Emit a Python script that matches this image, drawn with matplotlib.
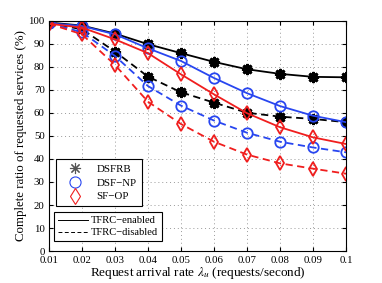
import numpy as np
import matplotlib
matplotlib.use('Agg')
import matplotlib.pyplot as plt
from matplotlib.lines import Line2D

plt.rcParams['font.family'] = ['Liberation Serif', 'DejaVu Serif']
plt.rcParams['mathtext.fontset'] = 'stix'

rates = [0.01, 0.02, 0.03, 0.04, 0.05, 0.06, 0.07, 0.08, 0.09, 0.1]

# TFRC-enabled
dsfrb_on = [99.3, 98.0, 94.5, 89.9, 86.0, 82.2, 79.0, 77.0, 75.7, 75.5]
dsfnp_on = [99.0, 97.8, 94.2, 88.1, 82.6, 75.2, 68.6, 63.0, 58.8, 56.0]
sfop_on = [98.8, 97.1, 92.0, 86.0, 76.8, 68.1, 59.9, 53.8, 49.4, 46.5]
# TFRC-disabled
dsfrb_off = [99.0, 96.4, 86.7, 75.8, 69.0, 64.5, 60.1, 58.4, 57.4, 56.0]
dsfnp_off = [99.0, 95.1, 84.8, 71.7, 63.2, 56.7, 51.4, 47.5, 45.0, 42.9]
sfop_off = [98.8, 94.2, 80.9, 64.9, 55.2, 47.5, 41.9, 38.1, 35.8, 33.6]

schemes = ['DSFRB', 'DSF\u2212NP', 'SF\u2212OP']
colors = ['black', '#2846f0', '#f01e1e']
markers = [(8, 2, 0), 'o', 'd']

fig = plt.figure(figsize=(3.82, 2.83), dpi=100)
ax = fig.add_axes([0.128, 0.113, 0.778, 0.813])

series_on = [dsfrb_on, dsfnp_on, sfop_on]
series_off = [dsfrb_off, dsfnp_off, sfop_off]
for i in range(3):
    ms = 8 if i == 0 else 7.5
    mew = 2.0 if i == 0 else 1.3
    ax.plot(rates, series_on[i], '-', color=colors[i], marker=markers[i],
            markersize=ms, mfc='none', mec=colors[i], mew=mew, lw=1.3)
    ax.plot(rates, series_off[i], color=colors[i], marker=markers[i],
            markersize=ms, mfc='none', mec=colors[i], mew=mew, lw=1.3,
            dashes=(4, 2.5))

ax.set_xlim(0.01, 0.1)
ax.set_ylim(0, 100)
ax.set_xticks(rates)
ax.set_xticklabels(['0.01', '0.02', '0.03', '0.04', '0.05', '0.06', '0.07', '0.08', '0.09', '0.1'])
ax.set_yticks(np.arange(0, 101, 10))
ax.tick_params(direction='in', labelsize=7.8, length=3, top=True, right=True)
ax.tick_params(axis='x', pad=3.5)
ax.tick_params(axis='y', pad=3)
ax.grid(True, linestyle=(0, (1, 3)), color='#999999', linewidth=0.7)
ax.set_xlabel('Request arrival rate $\\lambda_u$ (requests/second)', fontsize=9.5, labelpad=0)
ax.set_ylabel('Complete ratio of requested services (%)', fontsize=9.3, labelpad=1)

h1 = [Line2D([], [], ls='none', marker=markers[i], color=colors[i],
             mfc='none', mec=colors[i] if i else '#555555',
             markersize=8, mew=0.8) for i in range(3)]
leg1 = ax.legend(h1, schemes, loc='lower left', bbox_to_anchor=(0.013, 0.18),
                 fontsize=7.8, fancybox=False, edgecolor='black', framealpha=1,
                 handlelength=2.6, borderpad=0.45, labelspacing=0.4,
                 handletextpad=0.7, borderaxespad=0.3)
leg1.get_frame().set_linewidth(0.8)
ax.add_artist(leg1)
h2 = [Line2D([], [], ls='-', color='black', lw=0.7),
      Line2D([], [], color='black', lw=0.7, dashes=(4, 2.5))]
leg2 = ax.legend(h2, ['TFRC\u2212enabled', 'TFRC\u2212disabled'], loc='lower left',
                 bbox_to_anchor=(0.008, 0.03), fontsize=7.6, fancybox=False,
                 edgecolor='black', framealpha=1, handlelength=2.8, borderpad=0.35,
                 labelspacing=0.25, handletextpad=0.3, borderaxespad=0.3)
leg2.get_frame().set_linewidth(0.8)

plt.savefig('out.png', dpi=100)
plt.close()
